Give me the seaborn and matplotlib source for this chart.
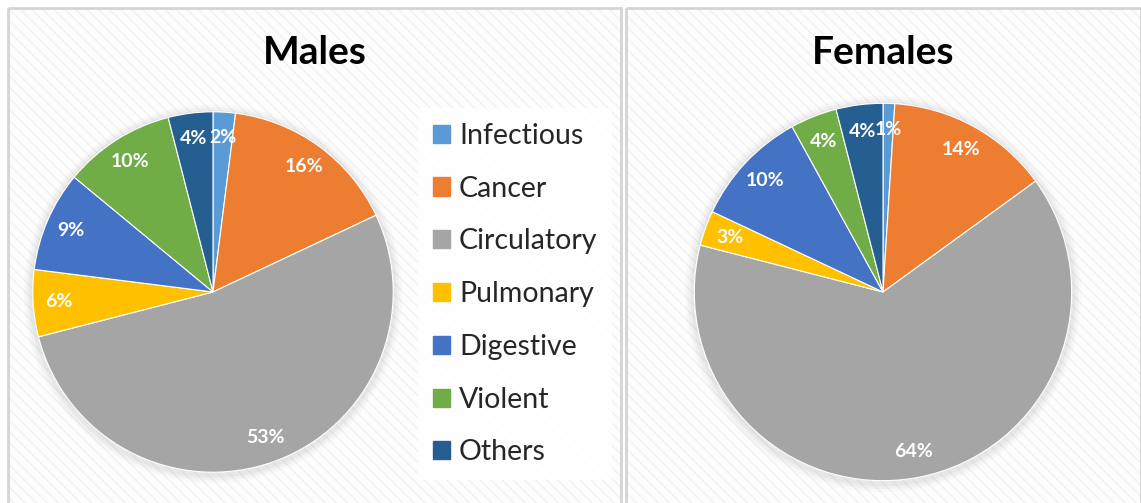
import numpy as np
import pandas as pd
import matplotlib.pyplot as plt
import matplotlib.patches as mpatches
from matplotlib.patches import Circle
import seaborn as sns

categories = ["Infectious", "Cancer", "Circulatory", "Pulmonary",
              "Digestive", "Violent", "Others"]
males = [2, 16, 53, 6, 9, 10, 4]
females = [1, 14, 64, 3, 10, 4, 4]
colors = ["#5B9BD5", "#ED7D31", "#A5A5A5", "#FFC000",
          "#4472C4", "#70AD47", "#255E91"]

W, H = 1141, 503

sns.set_theme(style="white")
plt.rcParams["font.family"] = ["Lato", "DejaVu Sans"]
palette = sns.color_palette(colors)

df = pd.DataFrame({"cause": categories, "Males": males, "Females": females})

fig = plt.figure(figsize=(W / 100, H / 100), dpi=100)


def px_box(x0, y0, x1, y1):
    # pixel box (top-left origin) -> figure fraction rect
    return [x0 / W, 1 - y1 / H, (x1 - x0) / W, (y1 - y0) / H]


# panel backgrounds
bg = fig.add_axes([0, 0, 1, 1], zorder=0)
bg.set_xlim(0, W)
bg.set_ylim(H, 0)
bg.axis("off")
for x0, x1 in [(8, 621), (626, 1141)]:
    bg.add_patch(mpatches.Rectangle((x0, 8), x1 - x0, H, facecolor="#fdfdfd",
                                    edgecolor="none"))
    bg.add_patch(mpatches.Rectangle((x0, 8), x1 - x0, H, facecolor="none",
                                    edgecolor="#f2f2f2", hatch="\\\\\\", lw=0))
    bg.add_patch(mpatches.Rectangle((x0, 8), x1 - x0, H, facecolor="none",
                                    edgecolor="#d4d4d4", lw=2))


def draw_pie(col, cx, cy, r, title, tx):
    ax = fig.add_axes(px_box(cx - r, cy - r, cx + r, cy + r), zorder=2)
    # soft shadow
    for k, a in zip([1.05, 1.035, 1.02], [0.04, 0.06, 0.08]):
        ax.add_patch(Circle((0, -0.01), k, color="#808080", alpha=a, lw=0))
    wedges, texts, autotexts = ax.pie(
        df[col], colors=palette, startangle=90, counterclock=False,
        radius=1, autopct="%1.0f%%", pctdistance=0.86,
        wedgeprops=dict(linewidth=0.8, edgecolor="white"),
        textprops=dict(color="white", fontsize=14, fontweight="bold"))
    ax.set_xlim(-1.06, 1.06)
    ax.set_ylim(-1.06, 1.06)
    ax.set_aspect("equal")
    ax.axis("off")
    fig.text(tx / W, 1 - 52 / H, title, ha="center", va="center",
             fontsize=28, fontweight="bold", color="black")
    return wedges


wedges = draw_pie("Males", 213, 292, 191, "Males", 315)
draw_pie("Females", 883, 292, 200, "Females", 883)

handles = [mpatches.Patch(color=c, label=l) for c, l in zip(palette, categories)]
leg = fig.legend(handles=handles, loc="upper left",
                 bbox_to_anchor=(418 / W, 1 - 108 / H),
                 fontsize=20.5, frameon=True, fancybox=False,
                 handlelength=0.6, handleheight=0.6, handletextpad=0.32,
                 labelspacing=0.94, borderpad=0.52, borderaxespad=0)
leg.get_frame().set_facecolor("white")
leg.get_frame().set_edgecolor("none")
leg.set_zorder(3)

fig.savefig("out.png", dpi=100)
